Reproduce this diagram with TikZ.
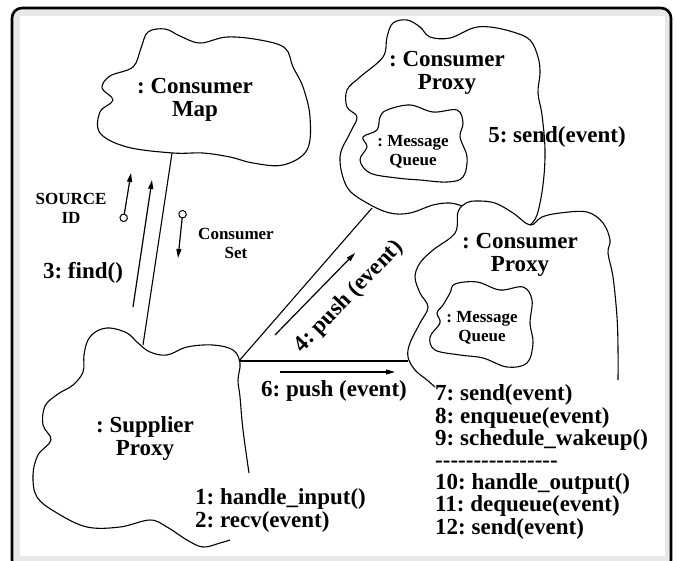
\documentclass[tikz,border=0pt]{standalone}
\usepackage{fontspec}
\setmainfont{Liberation Serif}
\frenchspacing
\usetikzlibrary{arrows.meta}

\tikzset{
  big/.style={font=\fontsize{23}{23}\selectfont\bfseries, align=center, inner sep=0pt},
  small/.style={font=\fontsize{17}{19}\selectfont\bfseries, align=center, inner sep=0pt},
  cloudline/.style={line width=1.1pt, line join=round},
  msgarrow/.style={line width=1.2pt, -{Triangle[length=9pt,width=5pt]}},
  dataarrow/.style={line width=1.2pt, {Circle[open,length=8.5pt,width=8.5pt,line width=1pt]}-{Triangle[length=9pt,width=5pt]}}
}

\begin{document}
\begin{tikzpicture}[x=1pt,y=-1pt]
            \useasboundingbox (0,0) rectangle (676,560);
            \clip (0,0) rectangle (676,560);
            \fill[gray!18, rounded corners=10] (12,8) rectangle (671,570);
            \fill[white] (20,16) rectangle (665,556);
            \draw[line width=2.6pt, rounded corners=10] (12,8) rectangle (671,570);

            \draw[cloudline] plot[smooth cycle, tension=0.6] coordinates {(148,32) (165,29) (180,36) (200,43) (227,37) (260,40) (285,48) (293,67) (303,87) (310,117) (307,150) (283,165) (253,163) (230,157) (203,153) (173,153) (127,147) (100,133) (100,112) (113,100) (102,88) (110,76) (133,67) (141,48)};
            \draw[cloudline] plot[smooth, tension=0.6] coordinates {(462,206) (450,203) (433,205) (410,213) (390,213) (367,203) (347,187) (340,157) (350,133) (357,117) (347,107) (347,90) (360,77) (383,57) (387,37) (393,23) (407,20) (420,27) (430,37) (450,38) (473,28) (490,27) (513,32) (530,40) (538,57) (540,73) (538,93) (542,115) (545,150) (543,185) (537,215) (530,225)};
            \draw[cloudline] plot[smooth, tension=0.6] coordinates {(435,387) (427,380) (415,370) (408,357) (410,343) (420,323) (428,307) (420,293) (415,277) (420,263) (433,250) (455,233) (458,212) (466,203) (477,201) (495,203) (513,213) (530,225) (542,217) (560,213) (587,212) (603,223) (610,240) (608,253) (613,277) (617,317) (618,350) (618,380)};
            \draw[cloudline] plot[smooth, tension=0.6] coordinates {(249,473) (243,430) (240,397) (238,380) (240,363) (233,350) (213,345) (187,347) (167,355) (150,352) (138,343) (127,333) (110,328) (97,331) (88,340) (84,355) (83,372) (73,385) (58,394) (45,406) (43,425) (51,440) (38,455) (33,475) (37,497) (57,513) (87,527) (120,527) (150,520) (167,527) (187,540) (203,547) (220,543) (230,540)};
            \draw[cloudline] plot[smooth cycle, tension=0.6] coordinates {(380,117) (387,110) (410,105) (433,112) (457,110) (463,123) (460,137) (467,157) (463,177) (447,182) (420,180) (397,178) (370,173) (360,160) (367,147) (363,137) (377,130)};
            \draw[cloudline] plot[smooth cycle, tension=0.6] coordinates {(450,293) (455,284) (477,282) (500,290) (523,287) (532,300) (530,323) (533,343) (527,363) (507,367) (483,358) (460,355) (435,350) (430,337) (440,323) (437,313) (443,305)};

            \node[big] (map) at (195,100) {: Consumer\\Map};
            \node[big] (cproxya) at (447,73) {: Consumer\\Proxy};
            \node[big] (cproxyb) at (520,255) {: Consumer\\Proxy};
            \node[small] (queuea) at (413,152) {: Message\\Queue};
            \node[small] (queueb) at (482,328) {: Message\\Queue};
            \node[big] (supp) at (145,438) {: Supplier\\Proxy};
            \node[big] (send5) at (557,137) {5: send(event)};
            \node[big] (find3) at (83,273) {3: find()};
            \node[small] (srcid) at (71,208) {SOURCE\\ID};
            \node[small] (cset) at (236,243) {Consumer\\Set};
            \node[big, rotate=46] (push4) at (349,297) {4: push (event)};
            \node[big] (push6) at (334,391) {6: push (event)};
            \node[big, align=left, anchor=west, font=\fontsize{23}{23}\selectfont\bfseries] (steps1) at (195,510) {1: handle\_input()\\2: recv(event)};
            \node[big, align=left, anchor=west, font=\fontsize{23}{22.2}\selectfont\bfseries] (steps2) at (435,462) {7: send(event)\\8: enqueue(event)\\9: schedule\_wakeup()\\-{}-{}-{}-{}-{}-{}-{}-{}-{}-{}-{}-{}-{}-{}-{}-{}\\10: handle\_output()\\11: dequeue(event)\\12: send(event)};

            \coordinate (mapfoot) at (172,153);
            \coordinate (supptop) at (143,345);
            \coordinate (suppright) at (239,361);
            \coordinate (cproxyafoot) at (372,208);
            \coordinate (cproxybleft) at (408,361);
              \draw[line width=1.1pt] (mapfoot)--(supptop);
              \draw[line width=1.1pt] (suppright)--(cproxyafoot);
              \draw[line width=1.1pt] (suppright)--(cproxybleft);

            \coordinate (finda) at (133,307);
            \coordinate (findb) at (152,180);
            \coordinate (srca) at (123,222);
            \coordinate (srcb) at (131,173);
            \coordinate (seta) at (183,210);
            \coordinate (setb) at (178,258);
            \coordinate (pushaa) at (275,335);
            \coordinate (pushab) at (355,253);
            \coordinate (pushba) at (280,372);
            \coordinate (pushbb) at (395,372);
              \draw[msgarrow] (finda)--(findb);
              \draw[dataarrow] (srca)--(srcb);
              \draw[dataarrow] (seta)--(setb);
              \draw[msgarrow] (pushaa)--(pushab);
              \draw[msgarrow] (pushba)--(pushbb);
            \end{tikzpicture}
\end{document}
